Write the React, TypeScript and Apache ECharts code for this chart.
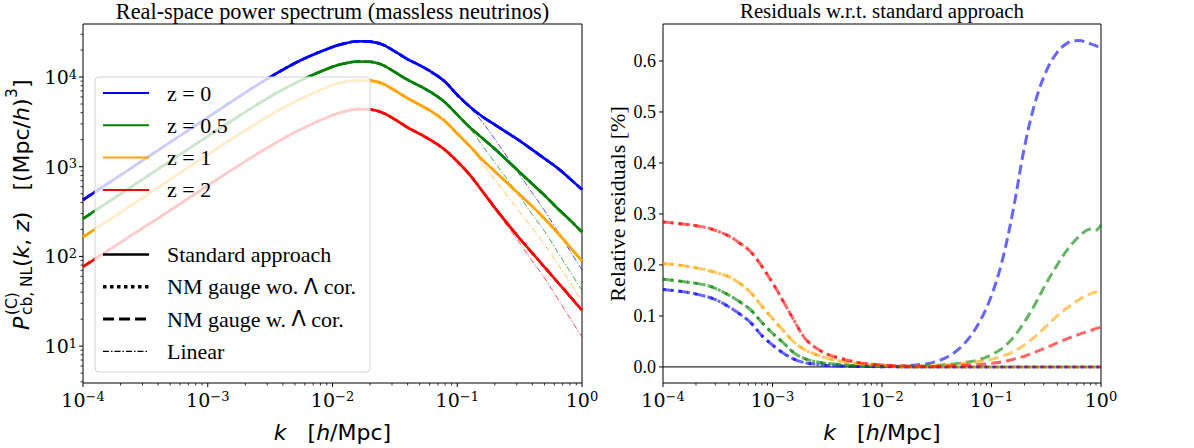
import React, { useEffect, useRef } from "react";
import * as echarts from "echarts";

// ---------- Left panel: P(k) ----------
const kP = [1e-4, 1.778e-4, 3.162e-4, 5.623e-4, 1e-3, 1.778e-3, 3.162e-3, 5.623e-3, 1e-2, 1.259e-2, 1.585e-2, 1.995e-2, 2.512e-2, 3.162e-2, 3.981e-2, 5.012e-2, 6.31e-2, 7.943e-2, 0.1, 0.1259, 0.1585, 0.1995, 0.2512, 0.3162, 0.3981, 0.5012, 0.631, 0.7943, 1];

const pStdZ0 = [426.6, 724.4, 1230, 2089, 3548, 6026, 10000, 15490, 21630, 23710, 25000, 24830, 23010, 19280, 15850, 13490, 11220, 8913, 6310, 4677, 3631, 2951, 2399, 1950, 1549, 1230, 977, 741, 556];
const pStdZ05 = [263, 446.7, 758.6, 1288, 2188, 3673, 6026, 9226, 13030, 14190, 14890, 14790, 13650, 11350, 9333, 7943, 6607, 5248, 3802, 2754, 2089, 1585, 1175, 871, 645.7, 478.6, 346.7, 257, 186.2];
const pStdZ1 = [164.1, 278.6, 473.2, 803.5, 1365, 2291, 3758, 5754, 8128, 8810, 9183, 9120, 8472, 7079, 5821, 4898, 4074, 3236, 2344, 1698, 1202, 891, 660.7, 489.8, 363.1, 263, 186.2, 128.8, 89.1];
const pStdZ2 = [76.7, 128.8, 216.3, 363.1, 616.6, 1035, 1698, 2630, 3758, 4140, 4385, 4345, 4009, 3373, 2754, 2317, 1928, 1549, 1148, 812.8, 537, 350.8, 234.4, 158.5, 109.6, 75.9, 52.5, 36.3, 25.1];

const kLin = [5.012e-2, 6.31e-2, 7.943e-2, 0.1, 0.1259, 0.1585, 0.1995, 0.2512, 0.3162, 0.3981, 0.5012, 0.631, 0.7943, 1];
const pLinZ0 = [13490, 11220, 8913, 6310, 4571, 3162, 2042, 1288, 813, 513, 324, 195, 117.5, 70.8];
const pLinZ05 = [7943, 6607, 5248, 3802, 2692, 1738, 1122, 724, 468, 295, 190.5, 114.8, 69.2, 41.7];
const pLinZ1 = [4898, 4074, 3236, 2344, 1698, 1096, 724, 478.6, 316.2, 208.9, 134.9, 85.1, 52.5, 31.6];
const pLinZ2 = [2317, 1928, 1549, 1148, 812.8, 524.8, 338.8, 218.8, 141.3, 89.1, 57.5, 34.7, 20.9, 12.6];

// ---------- Right panel: residuals [%] ----------
const kR = [1e-4, 1.585e-4, 2.512e-4, 3.162e-4, 3.981e-4, 5.012e-4, 6.31e-4, 7.943e-4, 1e-3, 1.259e-3, 1.585e-3, 1.995e-3, 2.512e-3, 3.162e-3, 3.981e-3, 6.31e-3, 1e-2, 1.585e-2, 2.512e-2, 3.162e-2, 3.981e-2, 5.012e-2, 6.31e-2, 7.943e-2, 0.1, 0.1259, 0.1585, 0.1995, 0.2512, 0.3162, 0.3981, 0.5012, 0.631, 0.7943, 0.8913, 1];

const resWZ0 = [0.152, 0.147, 0.138, 0.13, 0.118, 0.104, 0.087, 0.062, 0.043, 0.027, 0.015, 0.008, 0.005, 0.003, 0.002, 0.001, 0.0005, 0.002, 0.006, 0.011, 0.02, 0.035, 0.058, 0.092, 0.14, 0.21, 0.31, 0.43, 0.52, 0.58, 0.617, 0.636, 0.64, 0.634, 0.63, 0.625];
const resWZ05 = [0.172, 0.167, 0.16, 0.152, 0.141, 0.128, 0.112, 0.088, 0.066, 0.047, 0.027, 0.016, 0.01, 0.007, 0.005, 0.002, 0.001, 0.001, 0.002, 0.003, 0.005, 0.007, 0.01, 0.015, 0.024, 0.037, 0.058, 0.088, 0.124, 0.164, 0.2, 0.232, 0.256, 0.27, 0.268, 0.279];
const resWZ1 = [0.203, 0.198, 0.19, 0.184, 0.177, 0.164, 0.146, 0.12, 0.095, 0.071, 0.048, 0.033, 0.024, 0.017, 0.012, 0.006, 0.003, 0.002, 0.002, 0.003, 0.004, 0.006, 0.008, 0.011, 0.015, 0.021, 0.03, 0.043, 0.06, 0.08, 0.1, 0.117, 0.132, 0.143, 0.147, 0.151];
const resWZ2 = [0.284, 0.28, 0.273, 0.266, 0.257, 0.243, 0.226, 0.198, 0.165, 0.128, 0.09, 0.055, 0.037, 0.025, 0.018, 0.008, 0.004, 0.002, 0.001, 0.001, 0.002, 0.003, 0.004, 0.005, 0.007, 0.01, 0.015, 0.021, 0.029, 0.038, 0.047, 0.056, 0.064, 0.071, 0.075, 0.078];

const resWoZ0 = [0.152, 0.147, 0.138, 0.13, 0.118, 0.104, 0.087, 0.062, 0.043, 0.027, 0.015, 0.008, 0.005, 0.003, 0.002, 0.001, 0.0005, 0, 0, 0, 0, 0, 0, 0, 0, 0, 0, 0, 0, 0, 0, 0, 0, 0, 0, 0];
const resWoZ05 = [0.172, 0.167, 0.16, 0.152, 0.141, 0.128, 0.112, 0.088, 0.066, 0.047, 0.027, 0.016, 0.01, 0.007, 0.005, 0.002, 0.001, 0, 0, 0, 0, 0, 0, 0, 0, 0, 0, 0, 0, 0, 0, 0, 0, 0, 0, 0];
const resWoZ1 = [0.203, 0.198, 0.19, 0.184, 0.177, 0.164, 0.146, 0.12, 0.095, 0.071, 0.048, 0.033, 0.024, 0.017, 0.012, 0.006, 0.003, 0, 0, 0, 0, 0, 0, 0, 0, 0, 0, 0, 0, 0, 0, 0, 0, 0, 0, 0];
const resWoZ2 = [0.284, 0.28, 0.273, 0.266, 0.257, 0.243, 0.226, 0.198, 0.165, 0.128, 0.09, 0.055, 0.037, 0.025, 0.018, 0.008, 0.004, 0, 0, 0, 0, 0, 0, 0, 0, 0, 0, 0, 0, 0, 0, 0, 0, 0, 0, 0];

// ---------- ticks / labels ----------
const zLabels = ["z = 0", "z = 0.5", "z = 1", "z = 2"];
const zColors = ["#0000ff", "#008000", "#ffa500", "#ff0000"];
const majorX = [1e-4, 1e-3, 1e-2, 1e-1, 1];
const minorX = [2e-4, 3e-4, 4e-4, 5e-4, 6e-4, 7e-4, 8e-4, 9e-4, 2e-3, 3e-3, 4e-3, 5e-3, 6e-3, 7e-3, 8e-3, 9e-3, 2e-2, 3e-2, 4e-2, 5e-2, 6e-2, 7e-2, 8e-2, 9e-2, 0.2, 0.3, 0.4, 0.5, 0.6, 0.7, 0.8, 0.9];
const majorYLeft = [10, 100, 1000, 10000];
const minorYLeft = [4, 5, 6, 7, 8, 9, 20, 30, 40, 50, 60, 70, 80, 90, 200, 300, 400, 500, 600, 700, 800, 900, 2000, 3000, 4000, 5000, 6000, 7000, 8000, 9000, 20000, 30000];
const majorYRight = [0, 0.1, 0.2, 0.3, 0.4, 0.5, 0.6];
const titleLeft = "Real-space power spectrum (massless neutrinos)";
const titleRight = "Residuals w.r.t. standard approach";

const SERIF = "'Liberation Serif', 'Times New Roman', serif";
const MSERIF = "'DejaVu Serif', serif";
const SANS = "'DejaVu Sans', sans-serif";

const pairs = (ks: number[], vs: number[]) => ks.map((k, i) => [k, vs[i]]);

// tick marks drawn through the axes' own scales (api.coord)
function tickSeries(name: string, xi: number, yi: number, values: number[], dim: "x" | "y", other: number, len: number, w: number) {
  return {
    type: "custom", name, xAxisIndex: xi, yAxisIndex: yi, silent: true, clip: false, z: 6,
    data: values.map((v) => (dim === "x" ? [v, other] : [other, v])),
    renderItem: (params: any, api: any) => {
      const cs = params.coordSys;
      const p = api.coord([api.value(0), api.value(1)]);
      if (dim === "x") {
        const y = cs.y + cs.height;
        return { type: "line", shape: { x1: p[0], y1: y, x2: p[0], y2: y + len }, style: { stroke: "#000", lineWidth: w } };
      }
      const x = cs.x;
      return { type: "line", shape: { x1: x - len, y1: p[1], x2: x, y2: p[1] }, style: { stroke: "#000", lineWidth: w } };
    },
  };
}

function buildOption() {
  const expFmt = (v: number) => {
    const e = Math.round(Math.log10(v));
    return `{b|10}{s|${e < 0 ? "\u2212" + -e : e}}`;
  };
  const expRich = {
    b: { fontFamily: MSERIF, fontSize: 19, lineHeight: 19, padding: [6, 0, 0, 0], verticalAlign: "bottom", color: "#000" },
    s: { fontFamily: MSERIF, fontSize: 13, lineHeight: 13, verticalAlign: "top", color: "#000" },
  };
  const xName = "{i|k}   [{i|h}/Mpc]";
  const xNameStyle = {
    fontFamily: SANS, fontSize: 22, color: "#000",
    rich: { i: { fontFamily: SANS, fontSize: 22, fontStyle: "italic", color: "#000" } },
  };
  const xAxisDef = (gridIndex: number) => ({
    gridIndex, type: "log", logBase: 10, min: 1e-4, max: 1, position: "bottom",
    axisLine: { show: false, onZero: false },
    axisTick: { show: false },
    axisLabel: { customValues: majorX, formatter: expFmt, rich: expRich, margin: 7 },
    splitLine: { show: false },
    name: xName, nameLocation: "middle", nameGap: 38, nameTextStyle: xNameStyle,
  });

  const series: any[] = [];
  const std = [pStdZ0, pStdZ05, pStdZ1, pStdZ2];
  const lin = [pLinZ0, pLinZ05, pLinZ1, pLinZ2];
  const resW = [resWZ0, resWZ05, resWZ1, resWZ2];
  const resWo = [resWoZ0, resWoZ05, resWoZ1, resWoZ2];
  const common = { type: "line", showSymbol: false, silent: true, smooth: 0.35, emphasis: { disabled: true } };

  series.push({
    ...common, name: "zero", smooth: false, xAxisIndex: 1, yAxisIndex: 1, z: 1,
    data: [[1e-4, 0], [1, 0]], lineStyle: { color: "#000", width: 1 },
  });

  for (let i = 0; i < 4; i++) {
    const c = zColors[i];
    series.push({ ...common, name: `Standard approach, ${zLabels[i]}`, xAxisIndex: 0, yAxisIndex: 0, z: 3,
      data: pairs(kP, std[i]), lineStyle: { color: c, width: 2.6 } });
    series.push({ ...common, name: `NM gauge wo. Λ cor., ${zLabels[i]}`, xAxisIndex: 0, yAxisIndex: 0, z: 3,
      data: pairs(kP, std[i]), lineStyle: { color: c, width: 2.6, type: [2.6, 4.3] } });
    series.push({ ...common, name: `NM gauge w. Λ cor., ${zLabels[i]}`, xAxisIndex: 0, yAxisIndex: 0, z: 3,
      data: pairs(kP, std[i]), lineStyle: { color: c, width: 2.6, type: [9, 4] } });
    series.push({ ...common, name: `Linear, ${zLabels[i]}`, xAxisIndex: 0, yAxisIndex: 0, z: 3,
      data: pairs(kLin, lin[i]), lineStyle: { color: c, width: 1, type: [6, 2, 1.2, 2], opacity: 0.7 } });
    series.push({ ...common, name: `Residual wo. Λ cor., ${zLabels[i]}`, xAxisIndex: 1, yAxisIndex: 1, z: 3,
      data: pairs(kR, resWo[i]), lineStyle: { color: c, width: 3, type: [3, 5], opacity: 0.6 } });
    series.push({ ...common, name: `Residual w. Λ cor., ${zLabels[i]}`, xAxisIndex: 1, yAxisIndex: 1, z: 3,
      data: pairs(kR, resW[i]), lineStyle: { color: c, width: 3, type: [10, 5], opacity: 0.6 } });
  }

  // axis ticks
  series.push(tickSeries("ticks-x0-major", 0, 0, majorX, "x", 100, 4, 1));
  series.push(tickSeries("ticks-x0-minor", 0, 0, minorX, "x", 100, 2.5, 0.8));
  series.push(tickSeries("ticks-y0-major", 0, 0, majorYLeft, "y", 0.01, 4, 1));
  series.push(tickSeries("ticks-y0-minor", 0, 0, minorYLeft, "y", 0.01, 2.5, 0.8));
  series.push(tickSeries("ticks-x1-major", 1, 1, majorX, "x", 0, 4, 1));
  series.push(tickSeries("ticks-x1-minor", 1, 1, minorX, "x", 0, 2.5, 0.8));
  series.push(tickSeries("ticks-y1-major", 1, 1, majorYRight, "y", 0.01, 4, 1));

  // legend (matplotlib style box)
  const rows = [93, 125.3, 157.6, 189.9, 254.5, 286.8, 319.1, 351.4];
  const lx1 = 103, lx2 = 149, tx = 167;
  const legendItems: any[] = [];
  const txt = (y: number, text: string) => ({
    type: "text", x: tx, y, z: 102,
    style: {
      text, fill: "#000", fontFamily: SERIF, fontSize: 22, align: "left", verticalAlign: "middle",
      textAlign: "left", textVerticalAlign: "middle",
      rich: { L: { fontFamily: SANS, fontSize: 21, fill: "#000", color: "#000" } },
    },
  });
  const handle = (y: number, stroke: string, lineWidth: number, lineDash?: number[]) => ({
    type: "line", z: 102, shape: { x1: lx1, y1: y, x2: lx2, y2: y },
    style: { stroke, lineWidth, lineDash: lineDash || null, lineCap: "butt" },
  });
  for (let i = 0; i < 4; i++) {
    legendItems.push(handle(rows[i], zColors[i], 2));
    legendItems.push(txt(rows[i], zLabels[i]));
  }
  legendItems.push(handle(rows[4], "#000", 2.5));
  legendItems.push(txt(rows[4], "Standard approach"));
  legendItems.push(handle(rows[5], "#000", 3.5, [3.5, 3.5]));
  legendItems.push(txt(rows[5], "NM gauge wo. {L|Λ} cor."));
  legendItems.push(handle(rows[6], "#000", 3, [11, 5]));
  legendItems.push(txt(rows[6], "NM gauge w. {L|Λ} cor."));
  legendItems.push(handle(rows[7], "#000", 1.2, [6, 2, 1.5, 2]));
  legendItems.push(txt(rows[7], "Linear"));

  const sm = 15.4;
  const yLabelLeft = {
    type: "group", x: 21, y: 330, rotation: Math.PI / 2, z: 50,
    children: [
      { type: "text", x: 0, y: 0, style: { text: "P", fontFamily: SANS, fontStyle: "italic", fontSize: 22, fill: "#000", align: "left", verticalAlign: "middle" } },
      { type: "text", x: 15, y: -9, style: { text: "(C)", fontFamily: SANS, fontSize: sm, fill: "#000", align: "left", verticalAlign: "middle" } },
      { type: "text", x: 15, y: 6, style: { text: "cb, NL", fontFamily: SANS, fontSize: sm, fill: "#000", align: "left", verticalAlign: "middle" } },
      { type: "text", x: 63, y: 0, style: {
        text: "({i|k}, {i|z})   [(Mpc/{i|h})", fontFamily: SANS, fontSize: 22, fill: "#000", align: "left", verticalAlign: "middle",
        rich: { i: { fontFamily: SANS, fontSize: 22, fontStyle: "italic", fill: "#000", color: "#000" } } } },
      { type: "text", x: 232, y: -9, style: { text: "3", fontFamily: SANS, fontSize: sm, fill: "#000", align: "left", verticalAlign: "middle" } },
      { type: "text", x: 242, y: 0, style: { text: "]", fontFamily: SANS, fontSize: 22, fill: "#000", align: "left", verticalAlign: "middle" } },
    ],
  };
  const yLabelRight = {
    type: "text", x: 617, y: 204, rotation: Math.PI / 2, z: 50,
    style: { text: "Relative residuals [%]", fontFamily: SERIF, fontSize: 22, fill: "#000", align: "center", verticalAlign: "middle", textAlign: "center", textVerticalAlign: "middle" },
  };

  return {
    animation: false,
    backgroundColor: "#fff",
    title: [
      { text: titleLeft, left: 332.5, top: 0, textAlign: "center", padding: 0,
        textStyle: { fontFamily: SERIF, fontSize: 22.3, fontWeight: "normal", color: "#000" } },
      { text: titleRight, left: 882, top: 0, textAlign: "center", padding: 0,
        textStyle: { fontFamily: SERIF, fontSize: 20.8, fontWeight: "normal", color: "#000" } },
    ],
    grid: [
      { left: 83, top: 24, width: 499, height: 359, show: true, borderColor: "#000", borderWidth: 1, containLabel: false, outerBoundsMode: "none" },
      { left: 663, top: 24, width: 438, height: 359, show: true, borderColor: "#000", borderWidth: 1, containLabel: false, outerBoundsMode: "none" },
    ],
    xAxis: [xAxisDef(0), xAxisDef(1)],
    yAxis: [
      { gridIndex: 0, type: "log", logBase: 10, min: 3.88, max: 39000, position: "left",
        axisLine: { show: false, onZero: false },
        axisTick: { show: false },
        axisLabel: { customValues: majorYLeft, formatter: expFmt, rich: expRich, margin: 6 },
        splitLine: { show: false } },
      { gridIndex: 1, type: "value", min: -0.0315, max: 0.6725, position: "left",
        axisLine: { show: false, onZero: false },
        axisTick: { show: false },
        axisLabel: { customValues: majorYRight, formatter: (v: number) => v.toFixed(1), fontFamily: SERIF, fontSize: 18, color: "#000", margin: 7 },
        splitLine: { show: false } },
    ],
    graphic: [
      { type: "rect", z: 101, shape: { x: 95, y: 77, width: 275, height: 295, r: 4 },
        style: { fill: "rgba(255,255,255,0.8)", stroke: "#d3d3d3", lineWidth: 1 } },
      ...legendItems,
      yLabelLeft,
      yLabelRight,
    ],
    series,
  };
}

export default function App() {
  const ref = useRef<HTMLDivElement>(null);
  useEffect(() => {
    document.body.style.margin = "0";
    const chart = echarts.init(ref.current!, null, { renderer: "svg" });
    chart.setOption(buildOption() as any);
    return () => chart.dispose();
  }, []);
  return <div ref={ref} style={{ width: 1194, height: 448 }} />;
}
